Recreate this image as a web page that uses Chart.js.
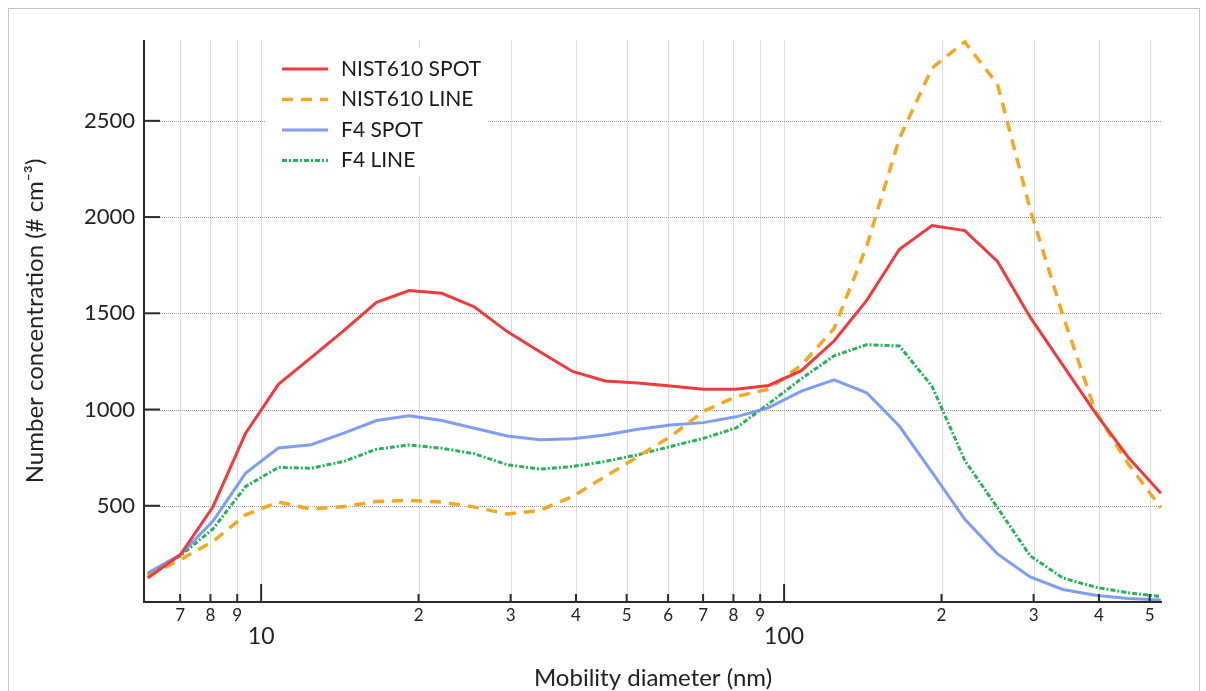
<!DOCTYPE html>
<html>
<head>
<meta charset="utf-8">
<script src="https://cdn.jsdelivr.net/npm/chart.js@4.4.0/dist/chart.umd.min.js"></script>
<style>
  html, body { margin: 0; padding: 0; background: #fff; }
  #wrap { position: relative; width: 1206px; height: 691px; overflow: hidden; }
  #frame { position: absolute; left: 8px; top: 8px; width: 1190px; height: 720px; border: 1px solid #c6c6c6; }
  canvas { position: absolute; left: 0; top: 0; }
</style>
</head>
<body>
<div id="wrap">
  <div id="frame"></div>
  <canvas id="sizeChart" width="1206" height="691"></canvas>
</div>
<script>
// mobility diameters (nm), 16 channels per decade
const diameters = [6.07, 7.01, 8.09, 9.34, 10.79, 12.46, 14.39, 16.62, 19.19, 22.16, 25.59, 29.55,
                   34.12, 39.40, 45.50, 52.55, 60.67, 70.06, 80.91, 93.44, 107.9, 124.6, 143.9, 166.2,
                   191.9, 221.6, 255.9, 295.5, 341.2, 394.0, 455.0, 525.5];

const nist610Spot = [125, 246, 495, 877, 1131, 1270, 1410, 1557, 1618, 1604, 1533, 1405,
                     1300, 1198, 1148, 1138, 1122, 1105, 1105, 1125, 1202, 1356, 1567, 1833,
                     1956, 1930, 1769, 1480, 1231, 981, 752, 565];
const nist610Line = [135, 220, 315, 453, 519, 483, 496, 522, 528, 519, 493, 457,
                     476, 548, 652, 756, 860, 990, 1067, 1106, 1231, 1420, 1850, 2410,
                     2775, 2910, 2690, 2040, 1490, 990, 718, 490];
const f4Spot = [150, 246, 420, 670, 800, 817, 877, 943, 967, 943, 903, 863,
                843, 848, 868, 898, 920, 932, 962, 1010, 1096, 1154, 1087, 913,
                673, 430, 250, 130, 65, 35, 18, 10];
const f4Line = [140, 240, 380, 600, 699, 695, 730, 794, 816, 799, 770, 713,
                690, 704, 730, 765, 808, 850, 904, 1030, 1160, 1279, 1337, 1330,
                1120, 735, 490, 240, 125, 77, 48, 29];

const seriesNames = ['NIST610 SPOT', 'NIST610 LINE', 'F4 SPOT', 'F4 LINE'];
const xTickValues = [7, 8, 9, 10, 20, 30, 40, 50, 60, 70, 80, 90, 100, 200, 300, 400, 500];
const yTickValues = [500, 1000, 1500, 2000, 2500];

const FONT = 'Lato, "Open Sans", sans-serif';
const isMajor = v => v === 10 || v === 100;

function points(values) {
    return values.map((v, i) => ({ x: diameters[i], y: v }));
}

const styles = [
    { color: '#ef3b3d', width: 3, dash: [] },
    { color: '#f4a720', width: 3.5, dash: [11, 8] },
    { color: 'rgba(105,140,240,0.85)', width: 3, dash: [] },
    { color: '#27b35a', width: 3, dash: [5, 2, 2, 2] }
];

// grid, axis lines and inside tick marks
const framePlugin = {
    id: 'framePlugin',
    beforeDatasetsDraw(chart) {
        const { ctx, chartArea: a, scales: { x, y } } = chart;
        ctx.save();
        ctx.lineWidth = 1;
        ctx.strokeStyle = '#dcdcdc';
        xTickValues.forEach(v => {
            const px = Math.round(x.getPixelForValue(v)) + 0.5;
            ctx.beginPath();
            ctx.moveTo(px, a.top);
            ctx.lineTo(px, a.bottom);
            ctx.stroke();
        });
        ctx.strokeStyle = '#9c9c9c';
        ctx.setLineDash([1, 1]);
        yTickValues.forEach(v => {
            const py = Math.round(y.getPixelForValue(v)) + 0.5;
            ctx.beginPath();
            ctx.moveTo(a.left, py);
            ctx.lineTo(a.right, py);
            ctx.stroke();
        });
        ctx.restore();
    },
    afterDraw(chart) {
        const { ctx, chartArea: a, scales: { x, y } } = chart;
        ctx.save();
        ctx.strokeStyle = '#2b2b2b';
        ctx.lineWidth = 2;
        ctx.beginPath();
        ctx.moveTo(a.left, a.top);
        ctx.lineTo(a.left, a.bottom);
        ctx.lineTo(a.right, a.bottom);
        ctx.stroke();
        xTickValues.forEach(v => {
            const px = x.getPixelForValue(v);
            ctx.beginPath();
            ctx.moveTo(px, a.bottom);
            ctx.lineTo(px, a.bottom - (isMajor(v) ? 18 : 8));
            ctx.stroke();
        });
        yTickValues.forEach(v => {
            const py = y.getPixelForValue(v);
            ctx.beginPath();
            ctx.moveTo(a.left, py);
            ctx.lineTo(a.left + 16, py);
            ctx.stroke();
        });
        ctx.restore();
    }
};

// legend inside the plot, top left
const legendPlugin = {
    id: 'insideLegend',
    afterDatasetsDraw(chart) {
        const ctx = chart.ctx;
        ctx.save();
        ctx.fillStyle = '#fff';
        ctx.fillRect(265, 48, 222, 128);
        ctx.font = '21px ' + FONT;
        ctx.textBaseline = 'middle';
        seriesNames.forEach((name, i) => {
            const yy = 69 + i * 30.5;
            const s = styles[i];
            ctx.strokeStyle = s.color;
            ctx.lineWidth = s.width;
            ctx.setLineDash(s.dash);
            ctx.beginPath();
            ctx.moveTo(282, yy);
            ctx.lineTo(328, yy);
            ctx.stroke();
            ctx.setLineDash([]);
            ctx.fillStyle = '#1a1a1a';
            ctx.fillText(name, 341, yy);
        });
        ctx.restore();
    }
};

const seriesValues = [nist610Spot, nist610Line, f4Spot, f4Line];

new Chart(document.getElementById('sizeChart'), {
    type: 'line',
    data: {
        datasets: seriesValues.map((vals, i) => ({
            label: seriesNames[i],
            data: points(vals),
            borderColor: styles[i].color,
            borderWidth: styles[i].width,
            borderDash: styles[i].dash,
            pointRadius: 0,
            tension: 0,
            fill: false
        }))
    },
    options: {
        responsive: false,
        animation: false,
        devicePixelRatio: 1,
        layout: { padding: { left: 14, top: 40, right: 44, bottom: 0 } },
        plugins: {
            legend: { display: false },
            tooltip: { enabled: false }
        },
        scales: {
            x: {
                type: 'logarithmic',
                min: 5.97,
                max: 528,
                afterBuildTicks: scale => {
                    scale.ticks = xTickValues.map(v => ({ value: v, major: isMajor(v) }));
                },
                afterFit: scale => { scale.height = 89; },
                grid: { display: false },
                border: { display: false },
                ticks: {
                    autoSkip: false,
                    maxRotation: 0,
                    padding: -4,
                    color: '#222',
                    font: ctx => (ctx.tick && isMajor(ctx.tick.value))
                        ? { family: FONT, size: 23, lineHeight: 0.9 }
                        : { family: FONT, size: 17, lineHeight: 1.1 },
                    callback: value => {
                        if (isMajor(value)) return ['', String(value)];
                        return String(value).charAt(0);
                    }
                },
                title: {
                    display: true,
                    text: 'Mobility diameter (nm)',
                    color: '#222',
                    font: { family: FONT, size: 24 },
                    padding: { top: 0, bottom: -2 }
                }
            },
            y: {
                min: 0,
                max: 2920,
                afterBuildTicks: scale => {
                    scale.ticks = yTickValues.map(v => ({ value: v }));
                },
                afterFit: scale => { scale.width = 130; },
                grid: { display: false },
                border: { display: false },
                ticks: {
                    padding: 1,
                    color: '#222',
                    font: { family: FONT, size: 22 },
                    callback: value => String(value)
                },
                title: {
                    display: true,
                    text: 'Number concentration (# cm⁻³)',
                    color: '#222',
                    font: { family: FONT, size: 24 },
                    padding: { top: 7, bottom: 0 }
                }
            }
        }
    },
    plugins: [framePlugin, legendPlugin]
});
</script>
</body>
</html>
